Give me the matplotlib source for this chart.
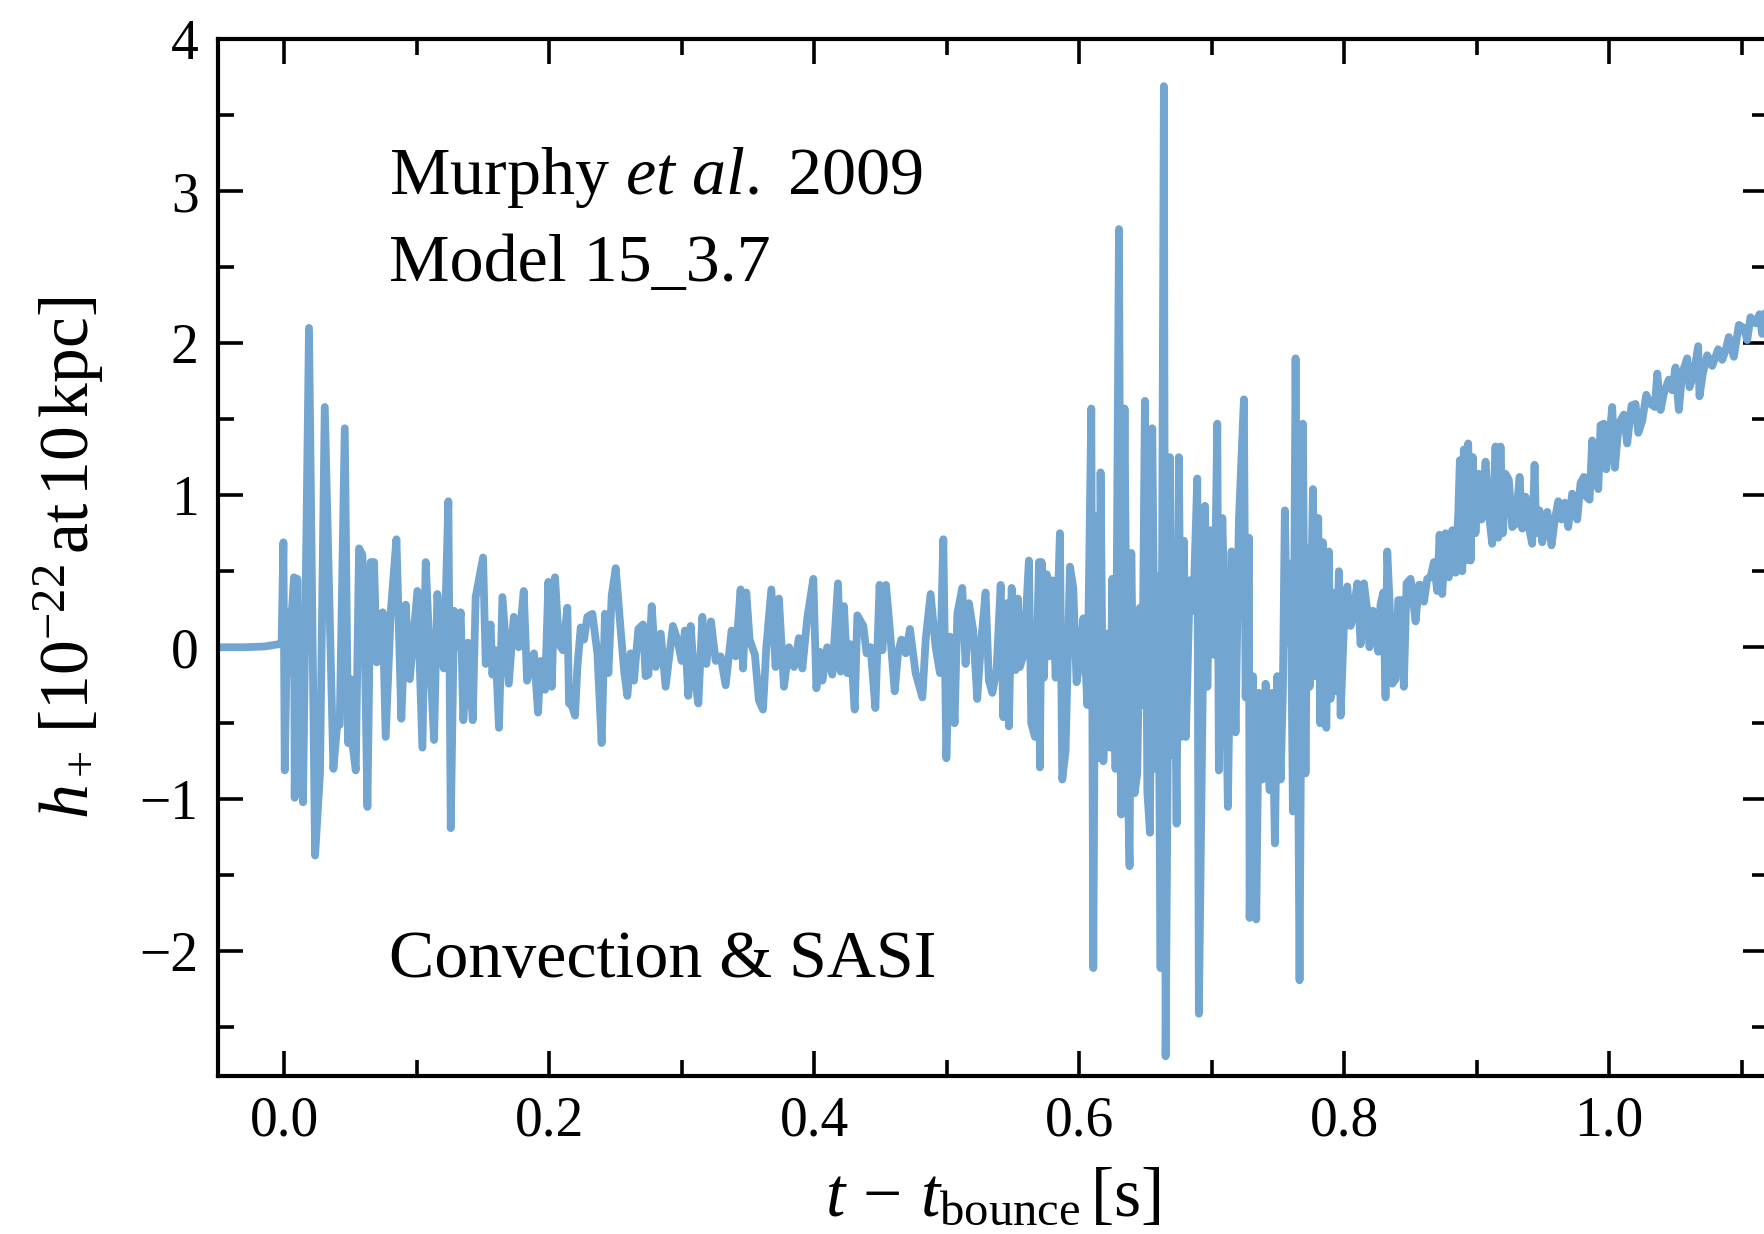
import numpy as np
import matplotlib
matplotlib.use("Agg")
import matplotlib.pyplot as plt
from matplotlib.ticker import MultipleLocator

# ---- waveform h_+ (10^-22 at 10 kpc) versus t - t_bounce (s) ----
# pre-bounce and early prompt convection
t_early = [-0.05, -0.03, -0.015, -0.004, -0.002, -0.0006, 0.0004, 0.0024, 0.0036, 0.0054,
           0.0074, 0.0079, 0.0099, 0.0119, 0.0132, 0.0142, 0.0187, 0.0233, 0.0270, 0.0306,
           0.0371, 0.0401, 0.0419, 0.0457, 0.0482, 0.0502, 0.0514, 0.0540, 0.0565, 0.0590,
           0.0603, 0.0628, 0.0653, 0.0678, 0.0698, 0.0716, 0.0743, 0.0766, 0.0804, 0.0847,
           0.0884, 0.0917, 0.0948, 0.1005, 0.1043, 0.1068, 0.1093, 0.1131, 0.1156, 0.1192,
           0.1205, 0.1239, 0.1257, 0.1282, 0.1307, 0.1332, 0.1352, 0.1387, 0.1423, 0.1445,
           0.1501, 0.1521, 0.1558, 0.1571, 0.1596, 0.1621, 0.1647, 0.1695, 0.1733, 0.1770,
           0.1808, 0.1833]
h_early = [0.0, 0.0, 0.005, 0.02, 0.03, 0.69, -0.81, 0.23, -0.17, 0.18,
           0.46, -0.99, 0.45, -0.92, 0.19, -1.02, 2.10, -1.37, -0.83, 1.58,
           -0.80, -0.50, -0.51, 1.44, -0.63, -0.21, -0.63, -0.81, 0.65, 0.61,
           0.30, -1.05, 0.56, 0.56, -0.10, -0.08, 0.23, -0.59, 0.23, 0.71,
           -0.47, 0.28, -0.21, 0.37, -0.66, 0.56, 0.06, -0.61, 0.35, -0.08,
           -0.14, 0.96, -1.19, 0.24, 0.0, 0.23, -0.48, 0.03, -0.48, 0.33,
           0.59, -0.11, 0.15, -0.18, -0.02, -0.53, 0.33, -0.24, 0.20, 0.0,
           0.37, -0.22]

# quiet phase
t_quiet = [0.1885, 0.1916, 0.1936, 0.1969, 0.1994, 0.2019, 0.2044, 0.2074, 0.2104, 0.2137,
           0.2150, 0.2170, 0.2195, 0.2213, 0.2238, 0.2263, 0.2288, 0.2326, 0.2364, 0.2396,
           0.2421, 0.2447, 0.2472, 0.2502, 0.2540, 0.2565, 0.2590, 0.2615, 0.2640, 0.2673,
           0.2708, 0.2728, 0.2749, 0.2774, 0.2804, 0.2842, 0.2879, 0.2909, 0.2934, 0.2967,
           0.3000, 0.3025, 0.3050, 0.3068, 0.3093, 0.3126, 0.3156, 0.3186, 0.3221, 0.3257,
           0.3294, 0.3332, 0.3377, 0.3408, 0.3445, 0.3463, 0.3488, 0.3513, 0.3553, 0.3583,
           0.3614, 0.3639, 0.3677, 0.3709, 0.3734, 0.3772,
           0.3810, 0.3848, 0.3885, 0.3911, 0.3948, 0.3994, 0.4017, 0.4044, 0.4062, 0.4099,
           0.4137, 0.4180, 0.4200, 0.4225, 0.4250, 0.4275, 0.4306, 0.4326, 0.4371, 0.4396,
           0.4426, 0.4462, 0.4494, 0.4515, 0.4542, 0.4572, 0.4608, 0.4633, 0.4658, 0.4691,
           0.4723, 0.4766, 0.4817, 0.4842, 0.4879, 0.4917, 0.4950, 0.4975, 0.4998, 0.5025,
           0.5060, 0.5081, 0.5118, 0.5143, 0.5168, 0.5201, 0.5231, 0.5257, 0.5294, 0.5319,
           0.5345, 0.5377, 0.5408, 0.5428, 0.5458, 0.5470, 0.5491, 0.5521, 0.5538, 0.5553,
           0.5584, 0.5621, 0.5639, 0.5667, 0.5697, 0.5704]
h_quiet = [-0.04, -0.43, -0.09, -0.28, 0.43, -0.26, 0.46, 0.02, -0.02, 0.26,
           -0.37, -0.38, -0.45, -0.13, 0.13, 0.05, 0.20, 0.22, -0.04, -0.63,
           0.22, -0.17, 0.34, 0.52, 0.11, -0.15, -0.32, -0.04, -0.22, 0.12,
           0.15, -0.19, -0.18, 0.27, -0.13, 0.09, -0.26, -0.04, 0.14, 0.05,
           -0.09, 0.11, -0.32, 0.14, -0.17, -0.37, 0.20, -0.11, 0.17, -0.09,
           -0.06, -0.25, 0.11, -0.06, 0.38, -0.14, 0.36, 0.05, -0.05, -0.35,
           -0.41, 0.0, 0.38, -0.13, 0.32, -0.26,
           0.0, -0.13, 0.06, -0.14, 0.19, 0.45, -0.27, -0.03, -0.22, 0.0,
           -0.18, 0.42, -0.16, 0.27, -0.17, 0.02, -0.41, 0.21, 0.14, -0.04,
           0.0, -0.40, 0.41, -0.02, 0.41, 0.11, -0.29, -0.04, 0.05, -0.04,
           0.12, -0.17, -0.33, 0.05, 0.35, 0.0, -0.17, 0.71, -0.73, 0.07,
           -0.50, 0.22, 0.39, -0.11, 0.29, 0.11, -0.34, 0.0, 0.36, -0.22,
           -0.30, -0.15, 0.41, -0.46, 0.29, -0.52, 0.39, -0.15, 0.32, -0.13,
           -0.04, 0.57, -0.50, -0.59, 0.56, -0.79]

# strong SASI burst
t_sasi = [0.5717, 0.5734, 0.5755, 0.5772, 0.5798, 0.5823, 0.5855, 0.5873, 0.5898, 0.5931,
          0.5956, 0.5981, 0.6006, 0.6032, 0.6062, 0.6092, 0.6107, 0.6125, 0.6150, 0.6162,
          0.6183, 0.6213, 0.6233, 0.6251, 0.6275, 0.6301, 0.6318, 0.6343, 0.6364, 0.6381,
          0.6394, 0.6419, 0.6439, 0.6459, 0.6477, 0.6497, 0.6515, 0.6535, 0.6552, 0.6577,
          0.6595, 0.6615, 0.6640, 0.6653, 0.6685, 0.6703, 0.6721, 0.6736, 0.6753, 0.6771,
          0.6791, 0.6806, 0.6836, 0.6862, 0.6892, 0.6904,
          0.6950, 0.6968, 0.6992, 0.7018, 0.7043, 0.7055, 0.7081, 0.7106, 0.7123, 0.7151,
          0.7181, 0.7206, 0.7244, 0.7257, 0.7282, 0.7287, 0.7312, 0.7337, 0.7357, 0.7383,
          0.7408, 0.7438, 0.7458, 0.7478, 0.7496, 0.7521, 0.7538, 0.7553, 0.7571, 0.7596,
          0.7614, 0.7634, 0.7664, 0.7689, 0.7709, 0.7725, 0.7740, 0.7765, 0.7785, 0.7805,
          0.7820, 0.7840, 0.7866, 0.7885, 0.7898, 0.7916, 0.7936, 0.7961, 0.7974, 0.7999,
          0.8024, 0.8049, 0.8067, 0.8100, 0.8125, 0.8150, 0.8175, 0.8192, 0.8218, 0.8258,
          0.8275, 0.8296, 0.8313, 0.8326, 0.8343, 0.8364, 0.8389, 0.8409, 0.8434, 0.8451,
          0.8472, 0.8502, 0.8540, 0.8565]
h_sasi = [0.56, -0.20, 0.48, -0.06, 0.44, -0.20, 0.75, -0.87, -0.68, 0.53,
          0.39, -0.23, -0.08, 0.19, -0.38, 1.57, -2.11, 0.86, -0.73, 1.15,
          -0.75, 0.09, -0.66, 0.45, -0.80, 2.75, -1.10, 1.57, -0.75, -1.44,
          0.62, -0.96, -0.83, 0.26, -0.38, 1.62, -0.95, -1.22, 1.44, -0.80,
          0.47, -2.11, 3.69, -2.69, 1.25, -0.71, 0.13, -1.16, 1.25, -0.59,
          0.70, -0.59, 0.44, 0.24, 1.11, -2.41,
          0.93, -0.26, 0.77, -0.05, 1.47, -0.81, 0.85, -0.05, -1.05, 0.63,
          -0.56, 0.83, 1.63, -0.33, 0.72, -1.78, -0.19, -1.79, -0.30, -0.87,
          -0.24, -0.94, -0.30, -1.29, -0.19, -0.87, -0.30, 0.90, 0.03, 0.55,
          -1.08, 1.90, -2.19, 1.47, -0.83, 0.65, -0.26, 1.04, -0.19, 0.85,
          -0.50, 0.69, -0.53, 0.63, -0.34, 0.36, -0.29, 0.50, -0.45, 0.14,
          0.40, 0.14, 0.20, 0.42, 0.02, 0.42, 0.24, 0.0, 0.24, -0.03,
          0.28, 0.36, -0.33, 0.63, 0.31, -0.24, -0.21, 0.31, 0.31, -0.26,
          0.42, 0.45, 0.17, 0.41]

# late-time memory rise
t_late = [0.8577, 0.8603, 0.8628, 0.8653, 0.8678, 0.8703, 0.8721, 0.8741, 0.8766, 0.8791,
          0.8817, 0.8842, 0.8862, 0.8874, 0.8892, 0.8904, 0.8917, 0.8937, 0.8955, 0.8972,
          0.8992, 0.9018, 0.9038, 0.9068, 0.9088, 0.9118, 0.9143, 0.9164, 0.9181, 0.9199,
          0.9219, 0.9244, 0.9269, 0.9294, 0.9325, 0.9345, 0.9370, 0.9395, 0.9420, 0.9438,
          0.9450, 0.9475, 0.9496, 0.9534, 0.9566, 0.9591, 0.9617, 0.9642, 0.9667, 0.9692,
          0.9722, 0.9760, 0.9785, 0.9810, 0.9828, 0.9853, 0.9873, 0.9898, 0.9919, 0.9936,
          0.9961, 0.9979, 0.9999, 1.0024, 1.0044, 1.0074, 1.0112, 1.0137, 1.0170, 1.0200,
          1.0221, 1.0251, 1.0281, 1.0313, 1.0346, 1.0364, 1.0389, 1.0414, 1.0451, 1.0477,
          1.0502, 1.0527, 1.0552, 1.0590, 1.0608, 1.0640, 1.0673, 1.0683, 1.0708, 1.0741,
          1.0779, 1.0824, 1.0854, 1.0879, 1.0904, 1.0942, 1.0980, 1.1017, 1.1043, 1.1068,
          1.1106, 1.1136, 1.1156, 1.1181, 1.1250]
h_late = [0.41, 0.30, 0.45, 0.46, 0.56, 0.37, 0.74, 0.35, 0.75, 0.46,
          0.77, 0.49, 0.88, 1.23, 0.50, 1.30, 0.57, 1.34, 0.57, 1.25,
          0.75, 1.14, 0.84, 1.22, 0.92, 0.68, 1.32, 0.72, 1.32, 0.75,
          1.14, 1.10, 0.79, 0.81, 1.12, 0.78, 0.99, 0.79, 0.68, 1.20,
          0.75, 0.90, 0.69, 0.89, 0.67, 0.84, 0.96, 0.84, 0.95, 0.79,
          1.01, 0.84, 1.08, 1.12, 0.99, 0.97, 1.36, 1.14, 1.04, 1.46,
          1.47, 1.17, 1.34, 1.58, 1.18, 1.47, 1.53, 1.34, 1.59, 1.60,
          1.41, 1.49, 1.66, 1.60, 1.58, 1.80, 1.56, 1.67, 1.76, 1.69,
          1.84, 1.56, 1.80, 1.90, 1.71, 1.80, 1.98, 1.65, 1.80, 1.92,
          1.85, 1.96, 1.89, 1.95, 2.04, 1.91, 2.12, 2.10, 2.02, 2.17,
          2.13, 2.19, 2.06, 2.22, 2.18]

time_s = np.concatenate([t_early, t_quiet, t_sasi, t_late])
h_plus = np.concatenate([h_early, h_quiet, h_sasi, h_late])

xticks_major = [0.0, 0.2, 0.4, 0.6, 0.8, 1.0]
yticks_major = [-2, -1, 0, 1, 2, 3, 4]

# ---- style ----
plt.rcParams['font.family'] = ['Liberation Serif', 'DejaVu Serif']
plt.rcParams['mathtext.fontset'] = 'custom'
plt.rcParams['mathtext.rm'] = 'Liberation Serif'
plt.rcParams['mathtext.it'] = 'Liberation Serif:italic'
plt.rcParams['mathtext.bf'] = 'Liberation Serif:bold'

fig = plt.figure(figsize=(17.65, 12.34), dpi=100)
ax = fig.add_axes([0.1235, 0.128, 0.8782, 0.8404])

ax.plot(time_s, h_plus, color='#72a5d0', lw=5.6,
        solid_joinstyle='round', solid_capstyle='round')

ax.set_xlim(-0.05, 1.12)
ax.set_ylim(-2.82, 4.0)

ax.set_xticks(xticks_major)
ax.set_xticklabels([f"{v:.1f}" for v in xticks_major])
ax.set_yticks(yticks_major)
ax.set_yticklabels(["\u2212" + str(abs(v)) if v < 0 else str(v) for v in yticks_major])
ax.xaxis.set_minor_locator(MultipleLocator(0.1))
ax.yaxis.set_minor_locator(MultipleLocator(0.5))

ax.tick_params(which='both', direction='in', top=True, right=True,
               width=2.6, labelsize=40)
ax.tick_params(which='major', length=18, pad=14)
ax.tick_params(which='minor', length=11.5)
for sp in ax.spines.values():
    sp.set_linewidth(3.0)

ax.set_xlabel(r"$t\,-\,t_{\rm bounce}\,[{\rm s}]$", fontsize=50, labelpad=14)
ax.set_ylabel(r"$h_+\,[10^{-22}\,{\rm at}\,10\,{\rm kpc}]$", fontsize=50, labelpad=24)

ax.text(0.079, 2.98, r"Murphy $et$ $al.$ 2009", fontsize=49, va='baseline', ha='left')
ax.text(0.079, 2.41, "Model 15_3.7", fontsize=49, va='baseline', ha='left')
ax.text(0.079, -2.17, "Convection & SASI", fontsize=49, va='baseline', ha='left')

fig.savefig("out.png", dpi=100)
